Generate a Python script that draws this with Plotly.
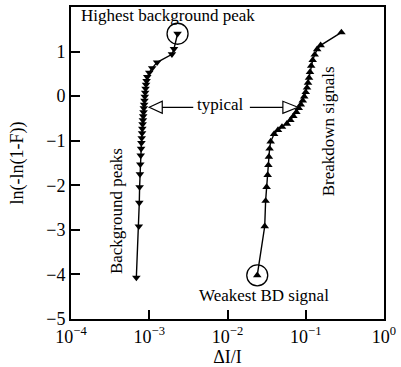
import plotly.graph_objects as go

# Background peaks (down triangles)
bg_x = [6.84e-4, 7.36e-4, 7.46e-4, 7.53e-4, 7.60e-4, 7.69e-4, 7.78e-4, 7.87e-4, 7.94e-4,
        8.01e-4, 8.09e-4, 8.15e-4, 8.22e-4, 8.30e-4, 8.37e-4, 8.45e-4, 8.52e-4, 8.61e-4,
        8.69e-4, 8.77e-4, 8.87e-4, 8.97e-4, 9.10e-4, 9.24e-4, 9.43e-4, 1.00e-3, 1.09e-3,
        1.26e-3, 1.95e-3, 2.07e-3, 2.30e-3]
bg_y = [-4.07, -2.92, -2.39, -2.04, -1.75, -1.53, -1.33, -1.18, -1.05,
        -0.94, -0.83, -0.73, -0.63, -0.54, -0.45, -0.36, -0.27, -0.19,
        -0.10, -0.01, 0.08, 0.17, 0.26, 0.34, 0.43, 0.53, 0.63,
        0.76, 0.94, 1.06, 1.40]

# Breakdown signals (up triangles)
bd_x = [0.0240, 0.0299, 0.0307, 0.0316, 0.0326, 0.0333, 0.0338, 0.0345, 0.0356,
        0.0394, 0.0442, 0.0497, 0.0574, 0.0636, 0.0695, 0.0759, 0.0815, 0.0865,
        0.0916, 0.0957, 0.100, 0.1038, 0.1069, 0.1101, 0.1133, 0.1174, 0.1227,
        0.1301, 0.1399, 0.1549, 0.2857]
bd_y = [-4.02, -2.92, -2.35, -2.04, -1.77, -1.55, -1.36, -1.18, -1.02,
        -0.85, -0.76, -0.69, -0.62, -0.54, -0.45, -0.36, -0.27, -0.19,
        -0.10, -0.01, 0.09, 0.19, 0.30, 0.41, 0.54, 0.68, 0.81,
        0.93, 1.05, 1.14, 1.43]

x_tick_vals = [1e-4, 1e-3, 1e-2, 1e-1, 1]
x_tick_text = ["10<sup>−4</sup>", "10<sup>−3</sup>", "10<sup>−2</sup>", "10<sup>−1</sup>", "10<sup>0</sup>"]
y_tick_vals = [-5, -4, -3, -2, -1, 0, 1, 2]

FONT = "Liberation Serif, Times New Roman, serif"

fig = go.Figure()
fig.add_trace(go.Scatter(x=bg_x, y=bg_y, mode="lines+markers",
                         line=dict(color="black", width=1.4),
                         marker=dict(symbol="triangle-down", size=7.5, color="black")))
fig.add_trace(go.Scatter(x=bd_x, y=bd_y, mode="lines+markers",
                         line=dict(color="black", width=1.4),
                         marker=dict(symbol="triangle-up", size=7.5, color="black")))
# circles around highest background peak and weakest BD signal
fig.add_trace(go.Scatter(x=[bg_x[-1], bd_x[0]], y=[bg_y[-1], bd_y[0]], mode="markers",
                         marker=dict(symbol="circle-open", size=21,
                                     line=dict(color="black", width=1.3), color="black")))

# hollow arrowheads with lines (pixel-sized, anchored at the tips)
fig.add_shape(type="path", xref="x", yref="y", xsizemode="pixel", ysizemode="pixel",
              xanchor=0.001, yanchor=-0.25,
              path="M0,0 L13,6 L13,-6 Z M13,0 L44,0",
              line=dict(color="black", width=1.2), fillcolor="white")
fig.add_shape(type="path", xref="x", yref="y", xsizemode="pixel", ysizemode="pixel",
              xanchor=0.0793, yanchor=-0.25,
              path="M0,0 L-15,6 L-15,-6 Z M-15,0 L-48,0",
              line=dict(color="black", width=1.2), fillcolor="white")

ann_font = dict(family=FONT, size=17, color="black")
fig.add_annotation(x=-2.759, y=1.80, text="Highest background peak", showarrow=False, font=ann_font)
fig.add_annotation(x=-1.532, y=-4.47, text="Weakest BD signal", showarrow=False, font=ann_font)
fig.add_annotation(x=-2.089, y=-0.185, text="typical", showarrow=False, font=ann_font)
fig.add_annotation(x=-3.418, y=-2.59, text="Background peaks", showarrow=False, textangle=-90, font=ann_font)
fig.add_annotation(x=-0.709, y=-0.80, text="Breakdown signals", showarrow=False, textangle=-90, font=ann_font)

fig.update_xaxes(type="log", range=[-4, 0], tickmode="array", tickvals=x_tick_vals, ticktext=x_tick_text,
                 ticks="inside", ticklen=9, tickwidth=1.5,
                 tickcolor="black", linecolor="black", linewidth=2, mirror=True,
                 showgrid=False, zeroline=False,
                 tickfont=dict(family=FONT, size=18, color="black"),
                 title=dict(text="ΔI/I", font=dict(family=FONT, size=18, color="black"), standoff=3))
fig.update_yaxes(range=[-5, 2], tickvals=y_tick_vals, ticks="inside", ticklen=9, tickwidth=1.5,
                 tickcolor="black", linecolor="black", linewidth=2, mirror=True,
                 showgrid=False, zeroline=False,
                 tickfont=dict(family=FONT, size=18, color="black"),
                 title=dict(text="ln(-ln(1-F))", font=dict(family=FONT, size=18, color="black"), standoff=18))

fig.update_layout(width=401, height=367, margin=dict(l=71, r=14, t=5, b=45),
                  paper_bgcolor="white", plot_bgcolor="white", showlegend=False)

fig.write_html("out.html")
